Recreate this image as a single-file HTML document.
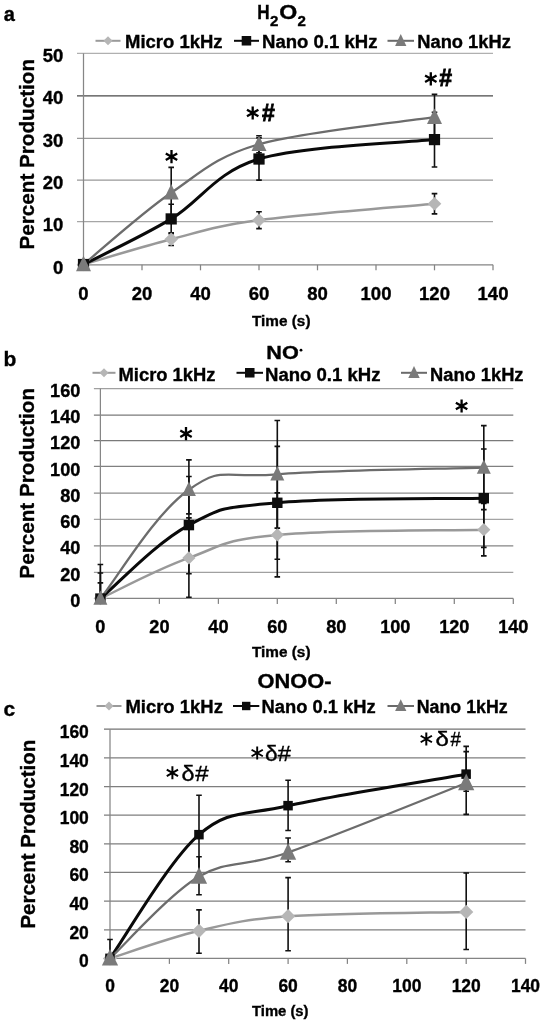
<!DOCTYPE html>
<html><head><meta charset="utf-8"><title>Figure</title>
<style>html,body{margin:0;padding:0;background:#fff;}body{width:546px;height:1020px;overflow:hidden;font-family:"Liberation Sans",sans-serif;}svg{display:block;}</style>
</head><body>
<svg width="546" height="1020" viewBox="0 0 546 1020" font-family="Liberation Sans, sans-serif">
<defs><filter id="sb" x="0" y="0" width="546" height="1020" filterUnits="userSpaceOnUse"><feGaussianBlur stdDeviation="0.5"/></filter></defs>
<rect width="546" height="1020" fill="#fff"/>
<line x1="77.0" x2="493.0" y1="221.6" y2="221.6" stroke="#a6a6a6" stroke-width="1.25"/>
<line x1="77.0" x2="493.0" y1="180.2" y2="180.2" stroke="#989898" stroke-width="1.25"/>
<line x1="77.0" x2="493.0" y1="138.4" y2="138.4" stroke="#989898" stroke-width="1.25"/>
<line x1="77.0" x2="493.0" y1="95.9" y2="95.9" stroke="#484848" stroke-width="1.25"/>
<line x1="77.0" x2="493.0" y1="53.4" y2="53.4" stroke="#b0b0b0" stroke-width="1.25"/>
<line x1="83.5" x2="83.5" y1="53.4" y2="264.8" stroke="#868686" stroke-width="1.25"/>
<line x1="77.0" x2="493.0" y1="264.8" y2="264.8" stroke="#848484" stroke-width="1.25"/>
<line x1="83.5" x2="83.5" y1="264.8" y2="270.3" stroke="#848484" stroke-width="1.25"/>
<line x1="142.0" x2="142.0" y1="264.8" y2="270.3" stroke="#848484" stroke-width="1.25"/>
<line x1="200.5" x2="200.5" y1="264.8" y2="270.3" stroke="#848484" stroke-width="1.25"/>
<line x1="259.0" x2="259.0" y1="264.8" y2="270.3" stroke="#848484" stroke-width="1.25"/>
<line x1="317.5" x2="317.5" y1="264.8" y2="270.3" stroke="#848484" stroke-width="1.25"/>
<line x1="376.0" x2="376.0" y1="264.8" y2="270.3" stroke="#848484" stroke-width="1.25"/>
<line x1="434.5" x2="434.5" y1="264.8" y2="270.3" stroke="#848484" stroke-width="1.25"/>
<line x1="493.0" x2="493.0" y1="264.8" y2="270.3" stroke="#848484" stroke-width="1.25"/>
<path d="M83.5,264.5 C98.1,260.3 142.0,246.6 171.2,239.2 C200.5,231.8 215.1,226.1 259.0,220.2 C302.9,214.3 405.2,206.5 434.5,203.7" fill="none" stroke="#999999" stroke-width="2.5" stroke-linejoin="round"/>
<path d="M83.5,264.5 C98.1,256.9 142.0,236.5 171.2,218.9 C200.5,201.3 215.1,172.2 259.0,159.0 C302.9,145.8 405.2,142.8 434.5,139.6" fill="none" stroke="#0a0a0a" stroke-width="3.0" stroke-linejoin="round"/>
<path d="M83.5,264.5 C98.1,252.5 142.0,212.8 171.2,192.8 C200.5,172.7 215.1,156.8 259.0,144.2 C302.9,131.6 405.2,121.7 434.5,117.2" fill="none" stroke="#6c6c6c" stroke-width="2.3" stroke-linejoin="round"/>
<path d="M171.2,232.8 V245.5 M168.39999999999998,232.8 h5.6 M168.39999999999998,245.5 h5.6" stroke="#111" stroke-width="1.6" fill="none"/>
<path d="M259.0,211.8 V228.6 M256.2,211.8 h5.6 M256.2,228.6 h5.6" stroke="#111" stroke-width="1.6" fill="none"/>
<path d="M434.5,193.6 V213.9 M431.7,193.6 h5.6 M431.7,213.9 h5.6" stroke="#111" stroke-width="1.6" fill="none"/>
<path d="M171.2,204.2 V233.7 M168.39999999999998,204.2 h5.6 M168.39999999999998,233.7 h5.6" stroke="#111" stroke-width="1.6" fill="none"/>
<path d="M259.0,137.9 V180.1 M256.2,137.9 h5.6 M256.2,180.1 h5.6" stroke="#111" stroke-width="1.6" fill="none"/>
<path d="M434.5,112.2 V167.0 M431.7,112.2 h5.6 M431.7,167.0 h5.6" stroke="#111" stroke-width="1.6" fill="none"/>
<path d="M171.2,167.4 V218.1 M168.39999999999998,167.4 h5.6 M168.39999999999998,218.1 h5.6" stroke="#111" stroke-width="1.6" fill="none"/>
<path d="M259.0,135.8 V152.7 M256.2,135.8 h5.6 M256.2,152.7 h5.6" stroke="#111" stroke-width="1.6" fill="none"/>
<path d="M434.5,94.4 V140.0 M431.7,94.4 h5.6 M431.7,140.0 h5.6" stroke="#111" stroke-width="1.6" fill="none"/>
<line x1="95.5" x2="120.5" y1="40.8" y2="40.8" stroke="#9a9a9a" stroke-width="2"/>
<line x1="234" x2="259" y1="40.8" y2="40.8" stroke="#0a0a0a" stroke-width="2"/>
<line x1="387.5" x2="414" y1="40.8" y2="40.8" stroke="#6a6a6a" stroke-width="2"/>
<line x1="93.9" x2="513.3" y1="572.3" y2="572.3" stroke="#a0a0a0" stroke-width="1.25"/>
<line x1="93.9" x2="513.3" y1="545.9" y2="545.9" stroke="#858585" stroke-width="1.25"/>
<line x1="93.9" x2="513.3" y1="519.4" y2="519.4" stroke="#a4a4a4" stroke-width="1.25"/>
<line x1="93.9" x2="513.3" y1="493.2" y2="493.2" stroke="#8c8c8c" stroke-width="1.25"/>
<line x1="93.9" x2="513.3" y1="466.4" y2="466.4" stroke="#808080" stroke-width="1.25"/>
<line x1="93.9" x2="513.3" y1="440.5" y2="440.5" stroke="#7a7a7a" stroke-width="1.25"/>
<line x1="93.9" x2="513.3" y1="415.0" y2="415.0" stroke="#7a7a7a" stroke-width="1.25"/>
<line x1="93.9" x2="513.3" y1="388.6" y2="388.6" stroke="#a0a0a0" stroke-width="1.25"/>
<line x1="100.4" x2="100.4" y1="388.6" y2="598.4" stroke="#868686" stroke-width="1.25"/>
<line x1="93.9" x2="513.3" y1="598.4" y2="598.4" stroke="#848484" stroke-width="1.25"/>
<line x1="100.4" x2="100.4" y1="598.4" y2="603.9" stroke="#848484" stroke-width="1.25"/>
<line x1="159.4" x2="159.4" y1="598.4" y2="603.9" stroke="#848484" stroke-width="1.25"/>
<line x1="218.4" x2="218.4" y1="598.4" y2="603.9" stroke="#848484" stroke-width="1.25"/>
<line x1="277.3" x2="277.3" y1="598.4" y2="603.9" stroke="#848484" stroke-width="1.25"/>
<line x1="336.3" x2="336.3" y1="598.4" y2="603.9" stroke="#848484" stroke-width="1.25"/>
<line x1="395.3" x2="395.3" y1="598.4" y2="603.9" stroke="#848484" stroke-width="1.25"/>
<line x1="454.3" x2="454.3" y1="598.4" y2="603.9" stroke="#848484" stroke-width="1.25"/>
<line x1="513.3" x2="513.3" y1="598.4" y2="603.9" stroke="#848484" stroke-width="1.25"/>
<path d="M100.4,598.6 C117.5,590.7 154.7,570.2 188.9,557.9 C223.1,545.6 220.3,540.4 277.3,534.9 C334.4,529.5 443.9,530.7 483.8,529.7" fill="none" stroke="#999999" stroke-width="2.5" stroke-linejoin="round"/>
<path d="M100.4,598.6 C117.5,584.4 154.7,543.6 188.9,525.1 C223.1,506.6 220.3,508.0 277.3,502.8 C334.4,497.6 443.9,499.1 483.8,498.2" fill="none" stroke="#0a0a0a" stroke-width="3.0" stroke-linejoin="round"/>
<path d="M100.4,598.6 C117.5,577.5 154.7,513.7 188.9,489.7 C223.1,465.6 220.3,478.6 277.3,474.3 C334.4,470.0 443.9,468.9 483.8,467.6" fill="none" stroke="#6c6c6c" stroke-width="2.3" stroke-linejoin="round"/>
<path d="M100.4,582.9 V598.6 M97.60000000000001,582.9 h5.6 M97.60000000000001,598.6 h5.6" stroke="#111" stroke-width="1.6" fill="none"/>
<path d="M188.9,517.9 V597.3 M186.1,517.9 h5.6 M186.1,597.3 h5.6" stroke="#111" stroke-width="1.6" fill="none"/>
<path d="M277.3,492.9 V576.9 M274.5,492.9 h5.6 M274.5,576.9 h5.6" stroke="#111" stroke-width="1.6" fill="none"/>
<path d="M483.8,503.4 V555.9 M481.0,503.4 h5.6 M481.0,555.9 h5.6" stroke="#111" stroke-width="1.6" fill="none"/>
<path d="M100.4,573.0 V598.6 M97.60000000000001,573.0 h5.6 M97.60000000000001,598.6 h5.6" stroke="#111" stroke-width="1.6" fill="none"/>
<path d="M188.9,476.5 V573.7 M186.1,476.5 h5.6 M186.1,573.7 h5.6" stroke="#111" stroke-width="1.6" fill="none"/>
<path d="M277.3,446.4 V559.2 M274.5,446.4 h5.6 M274.5,559.2 h5.6" stroke="#111" stroke-width="1.6" fill="none"/>
<path d="M483.8,449.0 V547.4 M481.0,449.0 h5.6 M481.0,547.4 h5.6" stroke="#111" stroke-width="1.6" fill="none"/>
<path d="M100.4,564.5 V598.6 M97.60000000000001,564.5 h5.6 M97.60000000000001,598.6 h5.6" stroke="#111" stroke-width="1.6" fill="none"/>
<path d="M188.9,459.9 V513.9 M186.1,459.9 h5.6 M186.1,513.9 h5.6" stroke="#111" stroke-width="1.6" fill="none"/>
<path d="M277.3,420.5 V528.1 M274.5,420.5 h5.6 M274.5,528.1 h5.6" stroke="#111" stroke-width="1.6" fill="none"/>
<path d="M483.8,425.6 V509.6 M481.0,425.6 h5.6 M481.0,509.6 h5.6" stroke="#111" stroke-width="1.6" fill="none"/>
<line x1="92.5" x2="115.5" y1="372.8" y2="372.8" stroke="#9a9a9a" stroke-width="2"/>
<line x1="236.5" x2="263" y1="372.8" y2="372.8" stroke="#0a0a0a" stroke-width="2"/>
<line x1="401" x2="427" y1="372.8" y2="372.8" stroke="#6a6a6a" stroke-width="2"/>
<line x1="104" x2="525.5" y1="929.8" y2="929.8" stroke="#7e7e7e" stroke-width="1.25"/>
<line x1="104" x2="525.5" y1="901.1" y2="901.1" stroke="#7e7e7e" stroke-width="1.25"/>
<line x1="104" x2="525.5" y1="872.4" y2="872.4" stroke="#7e7e7e" stroke-width="1.25"/>
<line x1="104" x2="525.5" y1="843.8" y2="843.8" stroke="#7e7e7e" stroke-width="1.25"/>
<line x1="104" x2="525.5" y1="815.1" y2="815.1" stroke="#7e7e7e" stroke-width="1.25"/>
<line x1="104" x2="525.5" y1="786.5" y2="786.5" stroke="#7e7e7e" stroke-width="1.25"/>
<line x1="104" x2="525.5" y1="757.8" y2="757.8" stroke="#7e7e7e" stroke-width="1.25"/>
<line x1="104" x2="525.5" y1="729.2" y2="729.2" stroke="#727272" stroke-width="1.25"/>
<line x1="110" x2="110" y1="729.2" y2="958.4" stroke="#868686" stroke-width="1.25"/>
<line x1="104" x2="525.5" y1="958.4" y2="958.4" stroke="#848484" stroke-width="1.25"/>
<line x1="110.0" x2="110.0" y1="958.4" y2="963.9" stroke="#848484" stroke-width="1.25"/>
<line x1="169.4" x2="169.4" y1="958.4" y2="963.9" stroke="#848484" stroke-width="1.25"/>
<line x1="228.7" x2="228.7" y1="958.4" y2="963.9" stroke="#848484" stroke-width="1.25"/>
<line x1="288.1" x2="288.1" y1="958.4" y2="963.9" stroke="#848484" stroke-width="1.25"/>
<line x1="347.4" x2="347.4" y1="958.4" y2="963.9" stroke="#848484" stroke-width="1.25"/>
<line x1="406.8" x2="406.8" y1="958.4" y2="963.9" stroke="#848484" stroke-width="1.25"/>
<line x1="466.2" x2="466.2" y1="958.4" y2="963.9" stroke="#848484" stroke-width="1.25"/>
<line x1="525.5" x2="525.5" y1="958.4" y2="963.9" stroke="#848484" stroke-width="1.25"/>
<path d="M110.0,958.4 C124.8,953.8 169.4,937.8 199.0,930.8 C228.7,923.8 243.6,919.4 288.1,916.2 C332.6,913.1 436.5,912.6 466.2,911.9" fill="none" stroke="#999999" stroke-width="2.5" stroke-linejoin="round"/>
<path d="M110.0,958.4 C124.8,937.8 169.4,860.2 199.0,834.7 C228.7,809.2 243.6,815.8 288.1,805.7 C332.6,795.6 436.5,779.5 466.2,774.2" fill="none" stroke="#0a0a0a" stroke-width="3.0" stroke-linejoin="round"/>
<path d="M110.0,958.4 C124.8,944.8 169.4,894.2 199.0,876.6 C228.7,859.0 243.6,868.1 288.1,852.5 C332.6,836.9 436.5,794.6 466.2,783.0" fill="none" stroke="#6c6c6c" stroke-width="2.3" stroke-linejoin="round"/>
<path d="M110.0,939.5 V958.4 M107.2,939.5 h5.6 M107.2,958.4 h5.6" stroke="#111" stroke-width="1.6" fill="none"/>
<path d="M199.0,909.9 V953.3 M196.2,909.9 h5.6 M196.2,953.3 h5.6" stroke="#111" stroke-width="1.6" fill="none"/>
<path d="M288.1,877.6 V950.8 M285.3,877.6 h5.6 M285.3,950.8 h5.6" stroke="#111" stroke-width="1.6" fill="none"/>
<path d="M466.2,873.0 V949.5 M463.4,873.0 h5.6 M463.4,949.5 h5.6" stroke="#111" stroke-width="1.6" fill="none"/>
<path d="M199.0,795.2 V874.4 M196.2,795.2 h5.6 M196.2,874.4 h5.6" stroke="#111" stroke-width="1.6" fill="none"/>
<path d="M288.1,780.3 V830.5 M285.3,780.3 h5.6 M285.3,830.5 h5.6" stroke="#111" stroke-width="1.6" fill="none"/>
<path d="M466.2,746.4 V791.2 M463.4,746.4 h5.6 M463.4,791.2 h5.6" stroke="#111" stroke-width="1.6" fill="none"/>
<path d="M199.0,856.8 V894.7 M196.2,856.8 h5.6 M196.2,894.7 h5.6" stroke="#111" stroke-width="1.6" fill="none"/>
<path d="M288.1,838.0 V861.8 M285.3,838.0 h5.6 M285.3,861.8 h5.6" stroke="#111" stroke-width="1.6" fill="none"/>
<path d="M466.2,751.6 V814.4 M463.4,751.6 h5.6 M463.4,814.4 h5.6" stroke="#111" stroke-width="1.6" fill="none"/>
<line x1="96.5" x2="121.5" y1="706" y2="706" stroke="#9a9a9a" stroke-width="2"/>
<line x1="233" x2="259.3" y1="706" y2="706" stroke="#0a0a0a" stroke-width="2"/>
<line x1="387.5" x2="414" y1="706" y2="706" stroke="#6a6a6a" stroke-width="2"/>
<g filter="url(#sb)">
<text x="83.5" y="300.3" font-size="18.2" font-weight="bold" text-anchor="middle" fill="#000" stroke="#000" stroke-width="0.35" textLength="10.3" lengthAdjust="spacingAndGlyphs" >0</text>
<text x="142.0" y="300.3" font-size="18.2" font-weight="bold" text-anchor="middle" fill="#000" stroke="#000" stroke-width="0.35" textLength="20.6" lengthAdjust="spacingAndGlyphs" >20</text>
<text x="200.5" y="300.3" font-size="18.2" font-weight="bold" text-anchor="middle" fill="#000" stroke="#000" stroke-width="0.35" textLength="20.6" lengthAdjust="spacingAndGlyphs" >40</text>
<text x="259.0" y="300.3" font-size="18.2" font-weight="bold" text-anchor="middle" fill="#000" stroke="#000" stroke-width="0.35" textLength="20.6" lengthAdjust="spacingAndGlyphs" >60</text>
<text x="317.5" y="300.3" font-size="18.2" font-weight="bold" text-anchor="middle" fill="#000" stroke="#000" stroke-width="0.35" textLength="20.6" lengthAdjust="spacingAndGlyphs" >80</text>
<text x="376.0" y="300.3" font-size="18.2" font-weight="bold" text-anchor="middle" fill="#000" stroke="#000" stroke-width="0.35" textLength="30.9" lengthAdjust="spacingAndGlyphs" >100</text>
<text x="434.5" y="300.3" font-size="18.2" font-weight="bold" text-anchor="middle" fill="#000" stroke="#000" stroke-width="0.35" textLength="30.9" lengthAdjust="spacingAndGlyphs" >120</text>
<text x="493.0" y="300.3" font-size="18.2" font-weight="bold" text-anchor="middle" fill="#000" stroke="#000" stroke-width="0.35" textLength="30.9" lengthAdjust="spacingAndGlyphs" >140</text>
<text x="63.4" y="273.6" font-size="18.2" font-weight="bold" text-anchor="end" fill="#000" stroke="#000" stroke-width="0.35" textLength="10.3" lengthAdjust="spacingAndGlyphs" >0</text>
<text x="63.4" y="231.3" font-size="18.2" font-weight="bold" text-anchor="end" fill="#000" stroke="#000" stroke-width="0.35" textLength="20.6" lengthAdjust="spacingAndGlyphs" >10</text>
<text x="63.4" y="189.0" font-size="18.2" font-weight="bold" text-anchor="end" fill="#000" stroke="#000" stroke-width="0.35" textLength="20.6" lengthAdjust="spacingAndGlyphs" >20</text>
<text x="63.4" y="146.6" font-size="18.2" font-weight="bold" text-anchor="end" fill="#000" stroke="#000" stroke-width="0.35" textLength="20.6" lengthAdjust="spacingAndGlyphs" >30</text>
<text x="63.4" y="104.3" font-size="18.2" font-weight="bold" text-anchor="end" fill="#000" stroke="#000" stroke-width="0.35" textLength="20.6" lengthAdjust="spacingAndGlyphs" >40</text>
<text x="63.4" y="62.0" font-size="18.2" font-weight="bold" text-anchor="end" fill="#000" stroke="#000" stroke-width="0.35" textLength="20.6" lengthAdjust="spacingAndGlyphs" >50</text>
<text x="252" y="325.5" font-size="15.5" font-weight="bold" text-anchor="start" fill="#000" stroke="#000" stroke-width="0.35" textLength="58.5" lengthAdjust="spacingAndGlyphs" >Time (s)</text>
<text transform="translate(33.8,154.2) rotate(-90)" font-size="20.5" font-weight="bold" stroke="#000" stroke-width="0.35" text-anchor="middle" textLength="190.5" lengthAdjust="spacingAndGlyphs">Percent Production</text>
<path d="M76.7,264.5 L83.5,257.7 L90.3,264.5 L83.5,271.3Z" fill="#b6b6b6"/>
<path d="M164.4,239.2 L171.2,232.4 L178.0,239.2 L171.2,246.0Z" fill="#b6b6b6"/>
<path d="M252.2,220.2 L259.0,213.4 L265.8,220.2 L259.0,227.0Z" fill="#b6b6b6"/>
<path d="M427.7,203.7 L434.5,196.9 L441.3,203.7 L434.5,210.5Z" fill="#b6b6b6"/>
<rect x="77.9" y="258.9" width="11.2" height="11.2" fill="#0a0a0a"/>
<rect x="165.6" y="213.3" width="11.2" height="11.2" fill="#0a0a0a"/>
<rect x="253.4" y="153.4" width="11.2" height="11.2" fill="#0a0a0a"/>
<rect x="428.9" y="134.0" width="11.2" height="11.2" fill="#0a0a0a"/>
<path d="M76.0,271.2 L83.5,255.7 L91.0,271.2Z" fill="#7a7a7a"/>
<path d="M163.7,199.5 L171.2,184.0 L178.7,199.5Z" fill="#7a7a7a"/>
<path d="M251.5,150.9 L259.0,135.4 L266.5,150.9Z" fill="#7a7a7a"/>
<path d="M427.0,123.9 L434.5,108.4 L442.0,123.9Z" fill="#7a7a7a"/>
<text y="19.2" font-size="19.5" font-weight="bold" stroke="#000" stroke-width="0.35"><tspan x="257.3" textLength="12.4" lengthAdjust="spacingAndGlyphs">H</tspan><tspan x="270" y="26" font-size="14" textLength="8.4" lengthAdjust="spacingAndGlyphs">2</tspan><tspan x="279.3" y="19.2" textLength="18" lengthAdjust="spacingAndGlyphs">O</tspan><tspan x="297.6" y="26" font-size="14" textLength="8.4" lengthAdjust="spacingAndGlyphs">2</tspan></text>
<path d="M103.5,40.8 L108.0,36.3 L112.5,40.8 L108.0,45.3Z" fill="#b6b6b6"/>
<text x="125" y="48.3" font-size="17.5" font-weight="bold" text-anchor="start" fill="#000" stroke="#000" stroke-width="0.35" textLength="97.5" lengthAdjust="spacingAndGlyphs" >Micro 1kHz</text>
<rect x="241.7" y="36.0" width="9.5" height="9.5" fill="#0a0a0a"/>
<text x="262" y="48.3" font-size="17.5" font-weight="bold" text-anchor="start" fill="#000" stroke="#000" stroke-width="0.35" textLength="115.5" lengthAdjust="spacingAndGlyphs" >Nano 0.1 kHz</text>
<path d="M395.1,45.9 L400.75,34.1 L406.4,45.9Z" fill="#7a7a7a"/>
<text x="417.3" y="48.3" font-size="17.5" font-weight="bold" text-anchor="start" fill="#000" stroke="#000" stroke-width="0.35" textLength="93.5" lengthAdjust="spacingAndGlyphs" >Nano 1kHz</text>
<path d="M171.50,150.10 L171.50,163.30 M165.78,153.40 L177.22,160.00 M177.22,153.40 L165.78,160.00 " stroke="#000" stroke-width="2.3" stroke-linecap="butt" fill="none"/>
<path d="M252.70,106.40 L252.70,119.60 M246.98,109.70 L258.42,116.30 M258.42,109.70 L246.98,116.30 " stroke="#000" stroke-width="2.3" stroke-linecap="butt" fill="none"/>
<text x="262" y="120.8" font-size="23" font-weight="bold" text-anchor="start" fill="#000" stroke="#000" stroke-width="0.8" textLength="12.8" lengthAdjust="spacingAndGlyphs" >#</text>
<path d="M430.80,72.20 L430.80,85.40 M425.08,75.50 L436.52,82.10 M436.52,75.50 L425.08,82.10 " stroke="#000" stroke-width="2.3" stroke-linecap="butt" fill="none"/>
<text x="439.2" y="86" font-size="23" font-weight="bold" text-anchor="start" fill="#000" stroke="#000" stroke-width="0.8" textLength="12.8" lengthAdjust="spacingAndGlyphs" >#</text>
<text x="3.8" y="20.5" font-size="20" font-weight="bold" text-anchor="start" fill="#000" stroke="#000" stroke-width="0.35" >a</text>
<text x="100.4" y="632.6" font-size="18.2" font-weight="bold" text-anchor="middle" fill="#000" stroke="#000" stroke-width="0.35" textLength="10.1" lengthAdjust="spacingAndGlyphs" >0</text>
<text x="159.4" y="632.6" font-size="18.2" font-weight="bold" text-anchor="middle" fill="#000" stroke="#000" stroke-width="0.35" textLength="20.2" lengthAdjust="spacingAndGlyphs" >20</text>
<text x="218.4" y="632.6" font-size="18.2" font-weight="bold" text-anchor="middle" fill="#000" stroke="#000" stroke-width="0.35" textLength="20.2" lengthAdjust="spacingAndGlyphs" >40</text>
<text x="277.3" y="632.6" font-size="18.2" font-weight="bold" text-anchor="middle" fill="#000" stroke="#000" stroke-width="0.35" textLength="20.2" lengthAdjust="spacingAndGlyphs" >60</text>
<text x="336.3" y="632.6" font-size="18.2" font-weight="bold" text-anchor="middle" fill="#000" stroke="#000" stroke-width="0.35" textLength="20.2" lengthAdjust="spacingAndGlyphs" >80</text>
<text x="395.3" y="632.6" font-size="18.2" font-weight="bold" text-anchor="middle" fill="#000" stroke="#000" stroke-width="0.35" textLength="30.3" lengthAdjust="spacingAndGlyphs" >100</text>
<text x="454.3" y="632.6" font-size="18.2" font-weight="bold" text-anchor="middle" fill="#000" stroke="#000" stroke-width="0.35" textLength="30.3" lengthAdjust="spacingAndGlyphs" >120</text>
<text x="513.3" y="632.6" font-size="18.2" font-weight="bold" text-anchor="middle" fill="#000" stroke="#000" stroke-width="0.35" textLength="30.3" lengthAdjust="spacingAndGlyphs" >140</text>
<text x="80.4" y="606.8" font-size="18.2" font-weight="bold" text-anchor="end" fill="#000" stroke="#000" stroke-width="0.35" textLength="10.1" lengthAdjust="spacingAndGlyphs" >0</text>
<text x="80.4" y="580.6" font-size="18.2" font-weight="bold" text-anchor="end" fill="#000" stroke="#000" stroke-width="0.35" textLength="20.2" lengthAdjust="spacingAndGlyphs" >20</text>
<text x="80.4" y="554.3" font-size="18.2" font-weight="bold" text-anchor="end" fill="#000" stroke="#000" stroke-width="0.35" textLength="20.2" lengthAdjust="spacingAndGlyphs" >40</text>
<text x="80.4" y="528.1" font-size="18.2" font-weight="bold" text-anchor="end" fill="#000" stroke="#000" stroke-width="0.35" textLength="20.2" lengthAdjust="spacingAndGlyphs" >60</text>
<text x="80.4" y="501.8" font-size="18.2" font-weight="bold" text-anchor="end" fill="#000" stroke="#000" stroke-width="0.35" textLength="20.2" lengthAdjust="spacingAndGlyphs" >80</text>
<text x="80.4" y="475.6" font-size="18.2" font-weight="bold" text-anchor="end" fill="#000" stroke="#000" stroke-width="0.35" textLength="30.3" lengthAdjust="spacingAndGlyphs" >100</text>
<text x="80.4" y="449.3" font-size="18.2" font-weight="bold" text-anchor="end" fill="#000" stroke="#000" stroke-width="0.35" textLength="30.3" lengthAdjust="spacingAndGlyphs" >120</text>
<text x="80.4" y="423.1" font-size="18.2" font-weight="bold" text-anchor="end" fill="#000" stroke="#000" stroke-width="0.35" textLength="30.3" lengthAdjust="spacingAndGlyphs" >140</text>
<text x="80.4" y="396.8" font-size="18.2" font-weight="bold" text-anchor="end" fill="#000" stroke="#000" stroke-width="0.35" textLength="30.3" lengthAdjust="spacingAndGlyphs" >160</text>
<text x="252" y="657" font-size="14.5" font-weight="bold" text-anchor="start" fill="#000" stroke="#000" stroke-width="0.35" textLength="58.5" lengthAdjust="spacingAndGlyphs" >Time (s)</text>
<text transform="translate(34.3,483.3) rotate(-90)" font-size="20.5" font-weight="bold" stroke="#000" stroke-width="0.35" text-anchor="middle" textLength="190.7" lengthAdjust="spacingAndGlyphs">Percent Production</text>
<path d="M93.8,598.6 L100.4,592.0 L107.0,598.6 L100.4,605.2Z" fill="#b6b6b6"/>
<path d="M182.3,557.9 L188.9,551.3 L195.5,557.9 L188.9,564.5Z" fill="#b6b6b6"/>
<path d="M270.7,534.9 L277.3,528.3 L283.9,534.9 L277.3,541.5Z" fill="#b6b6b6"/>
<path d="M477.2,529.7 L483.8,523.1 L490.4,529.7 L483.8,536.3Z" fill="#b6b6b6"/>
<rect x="95.2" y="593.4" width="10.4" height="10.4" fill="#0a0a0a"/>
<rect x="183.7" y="519.9" width="10.4" height="10.4" fill="#0a0a0a"/>
<rect x="272.1" y="497.6" width="10.4" height="10.4" fill="#0a0a0a"/>
<rect x="478.6" y="493.0" width="10.4" height="10.4" fill="#0a0a0a"/>
<path d="M93.4,604.8 L100.4,590.4 L107.4,604.8Z" fill="#7a7a7a"/>
<path d="M181.9,495.9 L188.9,481.5 L195.9,495.9Z" fill="#7a7a7a"/>
<path d="M270.3,480.5 L277.3,466.1 L284.3,480.5Z" fill="#7a7a7a"/>
<path d="M476.8,473.8 L483.8,459.4 L490.8,473.8Z" fill="#7a7a7a"/>
<text x="266.3" y="359.3" font-size="18.5" font-weight="bold" text-anchor="start" fill="#000" stroke="#000" stroke-width="0.35" textLength="32.5" lengthAdjust="spacingAndGlyphs" >NO</text>
<circle cx="301" cy="350.2" r="1.4" fill="#000"/>
<path d="M99.5,372.8 L104.0,368.3 L108.5,372.8 L104.0,377.3Z" fill="#b6b6b6"/>
<text x="118.5" y="380.8" font-size="17.5" font-weight="bold" text-anchor="start" fill="#000" stroke="#000" stroke-width="0.35" textLength="97" lengthAdjust="spacingAndGlyphs" >Micro 1kHz</text>
<rect x="245.0" y="368.0" width="9.5" height="9.5" fill="#0a0a0a"/>
<text x="265" y="380.8" font-size="17.5" font-weight="bold" text-anchor="start" fill="#000" stroke="#000" stroke-width="0.35" textLength="115.5" lengthAdjust="spacingAndGlyphs" >Nano 0.1 kHz</text>
<path d="M408.3,377.9 L414.0,366.1 L419.7,377.9Z" fill="#7a7a7a"/>
<text x="430" y="380.8" font-size="17.5" font-weight="bold" text-anchor="start" fill="#000" stroke="#000" stroke-width="0.35" textLength="93.5" lengthAdjust="spacingAndGlyphs" >Nano 1kHz</text>
<path d="M186.00,427.10 L186.00,440.30 M180.28,430.40 L191.72,437.00 M191.72,430.40 L180.28,437.00 " stroke="#000" stroke-width="2.3" stroke-linecap="butt" fill="none"/>
<path d="M461.60,399.40 L461.60,412.60 M455.88,402.70 L467.32,409.30 M467.32,402.70 L455.88,409.30 " stroke="#000" stroke-width="2.3" stroke-linecap="butt" fill="none"/>
<text x="3.5" y="365.5" font-size="21" font-weight="bold" text-anchor="start" fill="#000" stroke="#000" stroke-width="0.35" >b</text>
<text x="110.0" y="992.3" font-size="18.2" font-weight="bold" text-anchor="middle" fill="#000" stroke="#000" stroke-width="0.35" textLength="9.7" lengthAdjust="spacingAndGlyphs" >0</text>
<text x="169.4" y="992.3" font-size="18.2" font-weight="bold" text-anchor="middle" fill="#000" stroke="#000" stroke-width="0.35" textLength="19.4" lengthAdjust="spacingAndGlyphs" >20</text>
<text x="228.7" y="992.3" font-size="18.2" font-weight="bold" text-anchor="middle" fill="#000" stroke="#000" stroke-width="0.35" textLength="19.4" lengthAdjust="spacingAndGlyphs" >40</text>
<text x="288.1" y="992.3" font-size="18.2" font-weight="bold" text-anchor="middle" fill="#000" stroke="#000" stroke-width="0.35" textLength="19.4" lengthAdjust="spacingAndGlyphs" >60</text>
<text x="347.4" y="992.3" font-size="18.2" font-weight="bold" text-anchor="middle" fill="#000" stroke="#000" stroke-width="0.35" textLength="19.4" lengthAdjust="spacingAndGlyphs" >80</text>
<text x="406.8" y="992.3" font-size="18.2" font-weight="bold" text-anchor="middle" fill="#000" stroke="#000" stroke-width="0.35" textLength="29.1" lengthAdjust="spacingAndGlyphs" >100</text>
<text x="466.2" y="992.3" font-size="18.2" font-weight="bold" text-anchor="middle" fill="#000" stroke="#000" stroke-width="0.35" textLength="29.1" lengthAdjust="spacingAndGlyphs" >120</text>
<text x="525.5" y="992.3" font-size="18.2" font-weight="bold" text-anchor="middle" fill="#000" stroke="#000" stroke-width="0.35" textLength="29.1" lengthAdjust="spacingAndGlyphs" >140</text>
<text x="88.8" y="967.4" font-size="18.2" font-weight="bold" text-anchor="end" fill="#000" stroke="#000" stroke-width="0.35" textLength="9.7" lengthAdjust="spacingAndGlyphs" >0</text>
<text x="88.8" y="938.8" font-size="18.2" font-weight="bold" text-anchor="end" fill="#000" stroke="#000" stroke-width="0.35" textLength="19.4" lengthAdjust="spacingAndGlyphs" >20</text>
<text x="88.8" y="910.1" font-size="18.2" font-weight="bold" text-anchor="end" fill="#000" stroke="#000" stroke-width="0.35" textLength="19.4" lengthAdjust="spacingAndGlyphs" >40</text>
<text x="88.8" y="881.4" font-size="18.2" font-weight="bold" text-anchor="end" fill="#000" stroke="#000" stroke-width="0.35" textLength="19.4" lengthAdjust="spacingAndGlyphs" >60</text>
<text x="88.8" y="852.8" font-size="18.2" font-weight="bold" text-anchor="end" fill="#000" stroke="#000" stroke-width="0.35" textLength="19.4" lengthAdjust="spacingAndGlyphs" >80</text>
<text x="88.8" y="824.1" font-size="18.2" font-weight="bold" text-anchor="end" fill="#000" stroke="#000" stroke-width="0.35" textLength="29.1" lengthAdjust="spacingAndGlyphs" >100</text>
<text x="88.8" y="795.5" font-size="18.2" font-weight="bold" text-anchor="end" fill="#000" stroke="#000" stroke-width="0.35" textLength="29.1" lengthAdjust="spacingAndGlyphs" >120</text>
<text x="88.8" y="766.8" font-size="18.2" font-weight="bold" text-anchor="end" fill="#000" stroke="#000" stroke-width="0.35" textLength="29.1" lengthAdjust="spacingAndGlyphs" >140</text>
<text x="88.8" y="738.2" font-size="18.2" font-weight="bold" text-anchor="end" fill="#000" stroke="#000" stroke-width="0.35" textLength="29.1" lengthAdjust="spacingAndGlyphs" >160</text>
<text x="252" y="1015.5" font-size="14" font-weight="bold" text-anchor="start" fill="#000" stroke="#000" stroke-width="0.35" textLength="56.5" lengthAdjust="spacingAndGlyphs" >Time (s)</text>
<text transform="translate(35.2,834.2) rotate(-90)" font-size="20.5" font-weight="bold" stroke="#000" stroke-width="0.35" text-anchor="middle" textLength="188.7" lengthAdjust="spacingAndGlyphs">Percent Production</text>
<path d="M102.9,958.4 L110.0,951.3 L117.1,958.4 L110.0,965.5Z" fill="#b6b6b6"/>
<path d="M191.9,930.8 L199.0,923.7 L206.1,930.8 L199.0,937.9Z" fill="#b6b6b6"/>
<path d="M281.0,916.2 L288.1,909.1 L295.2,916.2 L288.1,923.3Z" fill="#b6b6b6"/>
<path d="M459.1,911.9 L466.2,904.8 L473.3,911.9 L466.2,919.0Z" fill="#b6b6b6"/>
<rect x="105.2" y="953.6" width="9.5" height="9.5" fill="#0a0a0a"/>
<rect x="194.2" y="829.9" width="9.5" height="9.5" fill="#0a0a0a"/>
<rect x="283.3" y="800.9" width="9.5" height="9.5" fill="#0a0a0a"/>
<rect x="461.4" y="769.4" width="9.5" height="9.5" fill="#0a0a0a"/>
<path d="M101.9,965.6 L110.0,948.9 L118.1,965.6Z" fill="#7a7a7a"/>
<path d="M190.9,883.8 L199.0,867.1 L207.1,883.8Z" fill="#7a7a7a"/>
<path d="M280.0,859.7 L288.1,843.0 L296.2,859.7Z" fill="#7a7a7a"/>
<path d="M458.1,790.2 L466.2,773.5 L474.3,790.2Z" fill="#7a7a7a"/>
<text x="257.5" y="688" font-size="19.5" font-weight="bold" text-anchor="start" fill="#000" stroke="#000" stroke-width="0.35" textLength="74" lengthAdjust="spacingAndGlyphs" >ONOO-</text>
<path d="M104.5,706 L109.0,701.5 L113.5,706 L109.0,710.5Z" fill="#b6b6b6"/>
<text x="125.4" y="713.3" font-size="17.5" font-weight="bold" text-anchor="start" fill="#000" stroke="#000" stroke-width="0.35" textLength="97.5" lengthAdjust="spacingAndGlyphs" >Micro 1kHz</text>
<rect x="242.0" y="701.8" width="8.4" height="8.4" fill="#0a0a0a"/>
<text x="261.6" y="713.3" font-size="17.5" font-weight="bold" text-anchor="start" fill="#000" stroke="#000" stroke-width="0.35" textLength="114" lengthAdjust="spacingAndGlyphs" >Nano 0.1 kHz</text>
<path d="M395.1,711.1 L400.75,699.3 L406.4,711.1Z" fill="#7a7a7a"/>
<text x="416.8" y="713.3" font-size="17.5" font-weight="bold" text-anchor="start" fill="#000" stroke="#000" stroke-width="0.35" textLength="90.8" lengthAdjust="spacingAndGlyphs" >Nano 1kHz</text>
<path d="M172.40,766.30 L172.40,779.30 M166.77,769.55 L178.03,776.05 M178.03,769.55 L166.77,776.05 " stroke="#000" stroke-width="2.0" stroke-linecap="butt" fill="none"/>
<text x="181.6" y="781.3" font-size="21.5" font-weight="normal" text-anchor="start" fill="#000" stroke="#000" stroke-width="0.4" textLength="13" lengthAdjust="spacingAndGlyphs" >δ</text>
<text x="195.2" y="781.3" font-size="21.5" font-weight="normal" text-anchor="start" fill="#000" stroke="#000" stroke-width="0.4" textLength="13.4" lengthAdjust="spacingAndGlyphs" >#</text>
<path d="M257.20,746.50 L257.20,759.50 M251.57,749.75 L262.83,756.25 M262.83,749.75 L251.57,756.25 " stroke="#000" stroke-width="1.9" stroke-linecap="butt" fill="none"/>
<text x="265" y="761.2" font-size="21.5" font-weight="normal" text-anchor="start" fill="#000" stroke="#000" stroke-width="0.4" textLength="12.6" lengthAdjust="spacingAndGlyphs" >δ</text>
<text x="277.8" y="761.2" font-size="21.5" font-weight="normal" text-anchor="start" fill="#000" stroke="#000" stroke-width="0.4" textLength="13.2" lengthAdjust="spacingAndGlyphs" >#</text>
<path d="M426.30,732.50 L426.30,745.50 M420.67,735.75 L431.93,742.25 M431.93,735.75 L420.67,742.25 " stroke="#000" stroke-width="2.0" stroke-linecap="butt" fill="none"/>
<text x="435.6" y="745.8" font-size="20" font-weight="normal" text-anchor="start" fill="#000" stroke="#000" stroke-width="0.4" textLength="13.4" lengthAdjust="spacingAndGlyphs" >δ</text>
<text x="450.6" y="745.8" font-size="20" font-weight="normal" text-anchor="start" fill="#000" stroke="#000" stroke-width="0.4" textLength="10.4" lengthAdjust="spacingAndGlyphs" >#</text>
<text x="3.5" y="715.8" font-size="21" font-weight="bold" text-anchor="start" fill="#000" stroke="#000" stroke-width="0.35" >c</text>
</g>
</svg>
</body></html>
